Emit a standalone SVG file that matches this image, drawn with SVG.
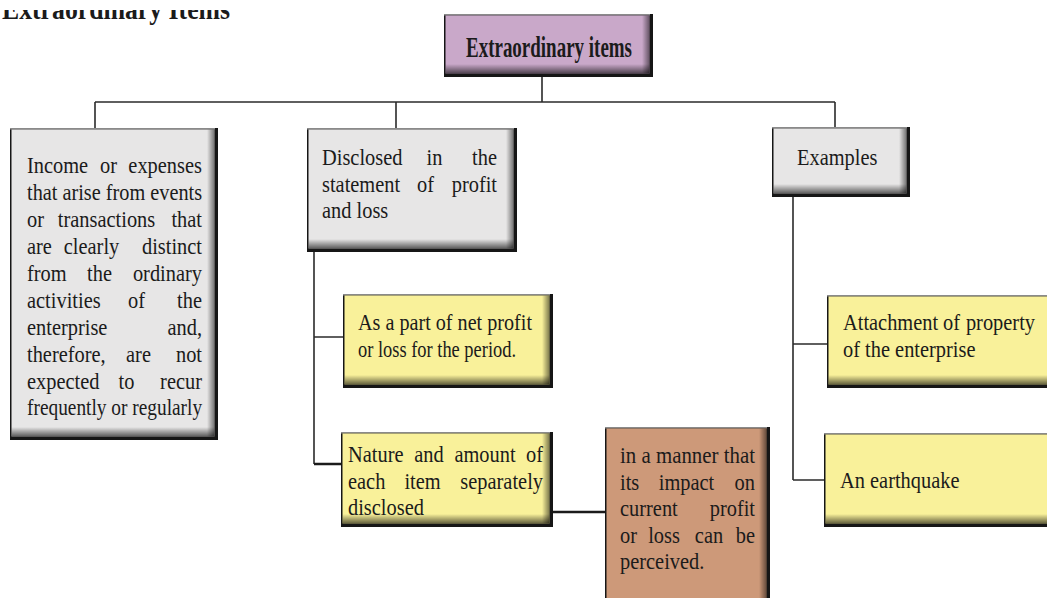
<svg xmlns="http://www.w3.org/2000/svg" width="1047" height="598" viewBox="0 0 1047 598">
  <style>
    .frame { fill: #161616; }
    .edge { fill: #8a8a8a; }
    .purple { fill: #c9a8c9; }
    .grey { fill: #e7e6e6; }
    .yellow { fill: #f9f19a; }
    .brown { fill: #cd9979; }
    .t { font-family: "Liberation Serif", "Times New Roman", serif; font-size: 24px; fill: #1b1b1b; }
    .m { text-anchor: middle; }
    .e { text-anchor: end; }
    .tb { font-family: "Liberation Serif", "Times New Roman", serif; font-size: 29px; font-weight: bold; fill: #1b1b1b; }
    .wire { stroke: #2b2b2b; stroke-width: 1.6; fill: none; }
    .wire-thick { stroke: #1b1b1b; stroke-width: 2.6; fill: none; }
  </style>
  <defs>
    <linearGradient id="shB" x1="0" y1="0" x2="0" y2="1">
      <stop offset="0" stop-color="#000" stop-opacity="0"/>
      <stop offset="1" stop-color="#000" stop-opacity="0.6"/>
    </linearGradient>
    <linearGradient id="shR" x1="0" y1="0" x2="1" y2="0">
      <stop offset="0" stop-color="#000" stop-opacity="0"/>
      <stop offset="1" stop-color="#000" stop-opacity="0.5"/>
    </linearGradient>
    <clipPath id="headClip">
      <rect x="0" y="10" width="1047" height="588"/>
    </clipPath>
  </defs>

  <rect width="1047" height="598" fill="#ffffff"/>

  <!-- page heading, trimmed at the top edge -->
  <g id="heading" clip-path="url(#headClip)">
    <text class="tb" x="2" y="19" font-size="27" textLength="228" lengthAdjust="spacingAndGlyphs">Extraordinary Items</text>
  </g>

  <!-- connectors -->
  <g id="connectors">
    <path class="wire" d="M542,77 V102 M95,102 H835 M95,102 V128 M396,102 V128 M835,102 V127"/>
    <path class="wire" d="M314,252 V464 M314,337 H343"/>
    <path class="wire-thick" d="M314,464 H341 M553,512 H605"/>
    <path class="wire" d="M793,197 V480 M793,344 H827 M793,480 H824"/>
  </g>

  <!-- root -->
  <g id="root">
    <rect class="frame" x="444" y="14" width="209" height="63"/>
    <rect class="edge" x="444" y="14" width="206" height="1.5"/>
    <rect class="purple" x="445.5" y="15.5" width="204" height="58"/>
    <rect x="445.5" y="64" width="204" height="9.5" fill="url(#shB)"/>
    <rect x="642" y="15.5" width="7.5" height="58" fill="url(#shR)"/>
    <text class="tb" x="466" y="57" textLength="166" lengthAdjust="spacingAndGlyphs">Extraordinary items</text>
  </g>

  <!-- definition (justified, word by word) -->
  <g id="definition">
    <rect class="frame" x="10" y="128" width="208" height="312"/>
    <rect class="edge" x="10" y="128" width="205" height="1.5"/>
    <rect class="grey" x="11.5" y="129.5" width="203" height="307"/>
    <rect x="11.5" y="427" width="203" height="9.5" fill="url(#shB)"/>
    <rect x="207" y="129.5" width="7.5" height="307" fill="url(#shR)"/>
    <text class="t" transform="translate(27,173) scale(0.85,1)">Income</text>
    <text class="t m" transform="translate(108.5,173) scale(0.85,1)">or</text>
    <text class="t e" transform="translate(202,173) scale(0.85,1)">expenses</text>
    <text class="t" transform="translate(27,200) scale(0.85,1)" textLength="206" lengthAdjust="spacingAndGlyphs">that arise from events</text>
    <text class="t" transform="translate(27,227) scale(0.85,1)">or</text>
    <text class="t m" transform="translate(106.5,227) scale(0.85,1)">transactions</text>
    <text class="t e" transform="translate(202,227) scale(0.85,1)">that</text>
    <text class="t" transform="translate(27,254) scale(0.85,1)">are</text>
    <text class="t m" transform="translate(91.5,254) scale(0.85,1)">clearly</text>
    <text class="t e" transform="translate(202,254) scale(0.85,1)">distinct</text>
    <text class="t" transform="translate(27,281) scale(0.85,1)">from</text>
    <text class="t m" transform="translate(99.5,281) scale(0.85,1)">the</text>
    <text class="t e" transform="translate(202,281) scale(0.85,1)">ordinary</text>
    <text class="t" transform="translate(27,308) scale(0.85,1)">activities</text>
    <text class="t m" transform="translate(136.5,308) scale(0.85,1)">of</text>
    <text class="t e" transform="translate(202,308) scale(0.85,1)">the</text>
    <text class="t" transform="translate(27,335) scale(0.85,1)">enterprise</text>
    <text class="t e" transform="translate(202,335) scale(0.85,1)">and,</text>
    <text class="t" transform="translate(27,362) scale(0.85,1)">therefore,</text>
    <text class="t m" transform="translate(138.5,362) scale(0.85,1)">are</text>
    <text class="t e" transform="translate(202,362) scale(0.85,1)">not</text>
    <text class="t" transform="translate(27,389) scale(0.85,1)">expected</text>
    <text class="t m" transform="translate(126.5,389) scale(0.85,1)">to</text>
    <text class="t e" transform="translate(202,389) scale(0.85,1)">recur</text>
    <text class="t" transform="translate(27,415) scale(0.85,1)" textLength="206" lengthAdjust="spacingAndGlyphs">frequently or regularly</text>
  </g>

  <!-- disclosure -->
  <g id="disclosure">
    <rect class="frame" x="307" y="128" width="210" height="124"/>
    <rect class="edge" x="307" y="128" width="207" height="1.5"/>
    <rect class="grey" x="308.5" y="129.5" width="205" height="119"/>
    <rect x="308.5" y="239" width="205" height="9.5" fill="url(#shB)"/>
    <rect x="506" y="129.5" width="7.5" height="119" fill="url(#shR)"/>
    <text class="t" transform="translate(322,165) scale(0.85,1)">Disclosed</text>
    <text class="t m" transform="translate(434.5,165) scale(0.85,1)">in</text>
    <text class="t e" transform="translate(497,165) scale(0.85,1)">the</text>
    <text class="t" transform="translate(322,192) scale(0.85,1)">statement</text>
    <text class="t m" transform="translate(425.5,192) scale(0.85,1)">of</text>
    <text class="t e" transform="translate(497,192) scale(0.85,1)">profit</text>
    <text class="t" transform="translate(322,218) scale(0.85,1)">and loss</text>
  </g>

  <!-- net profit part -->
  <g id="net-profit">
    <rect class="frame" x="343" y="294" width="210" height="94"/>
    <rect class="edge" x="343" y="294" width="207" height="1.5"/>
    <rect class="yellow" x="344.5" y="295.5" width="205" height="89"/>
    <rect x="344.5" y="375" width="205" height="9.5" fill="url(#shB)"/>
    <rect x="542" y="295.5" width="7.5" height="89" fill="url(#shR)"/>
    <text class="t" transform="translate(358,330) scale(0.85,1)" textLength="204.7" lengthAdjust="spacingAndGlyphs">As a part of net profit</text>
    <text class="t" transform="translate(358,357) scale(0.85,1)" textLength="185.9" lengthAdjust="spacingAndGlyphs">or loss for the period.</text>
  </g>

  <!-- separate disclosure -->
  <g id="separately">
    <rect class="frame" x="341" y="432" width="212" height="95"/>
    <rect class="edge" x="341" y="432" width="209" height="1.5"/>
    <rect class="yellow" x="342.5" y="433.5" width="207" height="90"/>
    <rect x="342.5" y="514" width="207" height="9.5" fill="url(#shB)"/>
    <rect x="542" y="433.5" width="7.5" height="90" fill="url(#shR)"/>
    <text class="t" transform="translate(348,462) scale(0.85,1)">Nature</text>
    <text class="t m" transform="translate(429,462) scale(0.85,1)">and</text>
    <text class="t m" transform="translate(485,462) scale(0.85,1)">amount</text>
    <text class="t e" transform="translate(543,462) scale(0.85,1)">of</text>
    <text class="t" transform="translate(348,489) scale(0.85,1)">each</text>
    <text class="t m" transform="translate(422.5,489) scale(0.85,1)">item</text>
    <text class="t e" transform="translate(543,489) scale(0.85,1)">separately</text>
    <text class="t" transform="translate(348,515) scale(0.85,1)">disclosed</text>
  </g>

  <!-- impact manner -->
  <g id="impact">
    <rect class="frame" x="605" y="427" width="165" height="175"/>
    <rect class="edge" x="605" y="427" width="162" height="1.5"/>
    <rect class="brown" x="606.5" y="428.5" width="160" height="175"/>
    <rect x="759" y="428.5" width="7.5" height="175" fill="url(#shR)"/>
    <text class="t" transform="translate(620,463) scale(0.85,1)" textLength="158.8" lengthAdjust="spacingAndGlyphs">in a manner that</text>
    <text class="t" transform="translate(620,490) scale(0.85,1)">its</text>
    <text class="t m" transform="translate(686.5,490) scale(0.85,1)">impact</text>
    <text class="t e" transform="translate(755,490) scale(0.85,1)">on</text>
    <text class="t" transform="translate(620,516) scale(0.85,1)">current</text>
    <text class="t e" transform="translate(755,516) scale(0.85,1)">profit</text>
    <text class="t" transform="translate(620,543) scale(0.85,1)">or</text>
    <text class="t m" transform="translate(664,543) scale(0.85,1)">loss</text>
    <text class="t m" transform="translate(709,543) scale(0.85,1)">can</text>
    <text class="t e" transform="translate(755,543) scale(0.85,1)">be</text>
    <text class="t" transform="translate(620,569) scale(0.85,1)">perceived.</text>
  </g>

  <!-- examples -->
  <g id="examples">
    <rect class="frame" x="772" y="127" width="138" height="70"/>
    <rect class="edge" x="772" y="127" width="135" height="1.5"/>
    <rect class="grey" x="773.5" y="128.5" width="133" height="65"/>
    <rect x="773.5" y="184" width="133" height="9.5" fill="url(#shB)"/>
    <rect x="899" y="128.5" width="7.5" height="65" fill="url(#shR)"/>
    <text class="t" transform="translate(797,165) scale(0.85,1)">Examples</text>
  </g>

  <!-- attachment example -->
  <g id="attachment">
    <rect class="frame" x="827" y="295" width="225" height="93"/>
    <rect class="edge" x="827" y="295" width="225" height="1.5"/>
    <rect class="yellow" x="828.5" y="296.5" width="225" height="88"/>
    <rect x="828.5" y="375" width="225" height="9.5" fill="url(#shB)"/>
    <text class="t" transform="translate(843,330) scale(0.85,1)">Attachment</text>
    <text class="t m" transform="translate(951.5,330) scale(0.85,1)">of</text>
    <text class="t e" transform="translate(1035,330) scale(0.85,1)">property</text>
    <text class="t" transform="translate(843,357) scale(0.85,1)">of the enterprise</text>
  </g>

  <!-- earthquake example -->
  <g id="earthquake">
    <rect class="frame" x="824" y="433" width="228" height="94"/>
    <rect class="edge" x="824" y="433" width="228" height="1.5"/>
    <rect class="yellow" x="825.5" y="434.5" width="228" height="89"/>
    <rect x="825.5" y="514" width="228" height="9.5" fill="url(#shB)"/>
    <text class="t" transform="translate(840,488) scale(0.85,1)">An earthquake</text>
  </g>
</svg>
